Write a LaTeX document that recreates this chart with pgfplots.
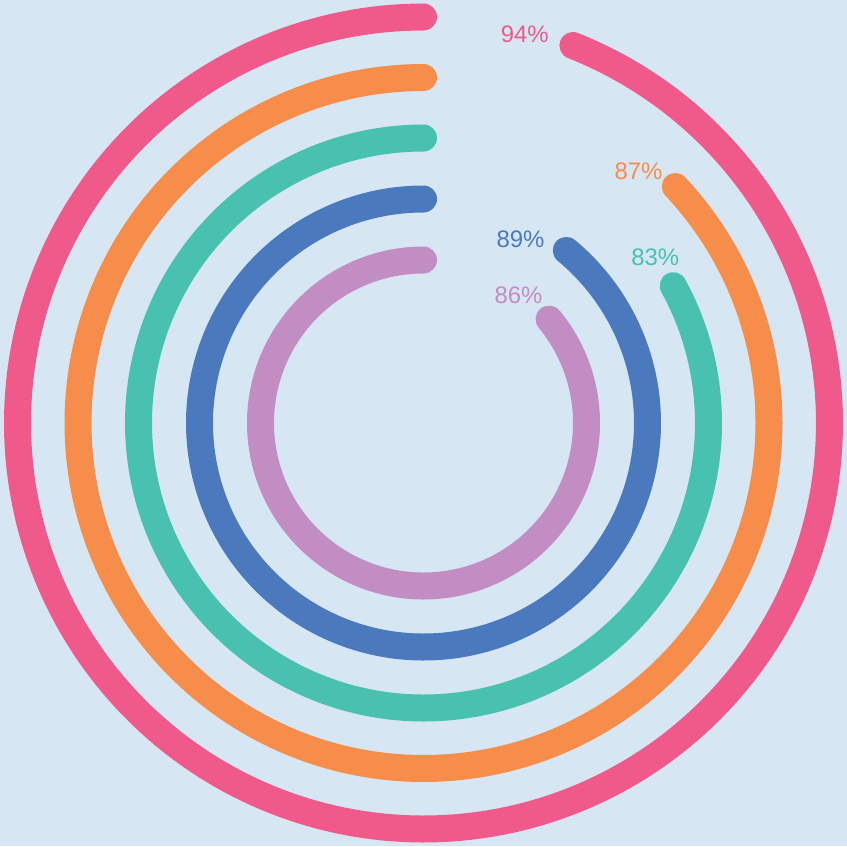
\documentclass[border=0pt]{standalone}
\usepackage{pgfplots}
\pgfplotsset{compat=1.18}
\usepgfplotslibrary{polar}
\usepackage{fontspec}
\setmainfont{Liberation Sans}
\definecolor{bg}{HTML}{D6E7F3}
\definecolor{cpink}{HTML}{F05A8A}
\definecolor{corange}{HTML}{F68D4B}
\definecolor{cgreen}{HTML}{48C1B1}
\definecolor{cblue}{HTML}{4B79BE}
\definecolor{cpurple}{HTML}{C28DC2}
\begin{document}
\begin{tikzpicture}[lbl/.style={font=\fontsize{6.8}{8}\selectfont}]
\fill[bg] (-4.235cm,-4.23cm) rectangle (4.235cm,4.23cm);
\begin{polaraxis}[
  at={(0,0)}, anchor=center,
  hide axis, clip=false,
  width=8.47cm, height=8.47cm, scale only axis,
  ymin=0, ymax=423.5,
  every axis plot/.append style={no markers, line cap=round, line width=2.7mm, samples=240},
]
% value 94, radius 406
\addplot[cpink,   domain=90:{90+3.6*94}] (x, 406);
% value 87, radius 345.5
\addplot[corange, domain=90:{90+3.6*87}] (x, 345.5);
% value 83, radius 285
\addplot[cgreen,  domain=90:{90+3.6*83}] (x, 285);
% value 89, radius 224
\addplot[cblue,   domain=90:{90+3.6*89}] (x, 224);
% value 86, radius 163
\addplot[cpurple, domain=90:{90+3.6*86}] (x, 163);
\node[lbl, text=cpink]   at (axis cs:75.4,402) {94\%};
\node[lbl, text=corange] at (axis cs:49.5,331) {87\%};
\node[lbl, text=cgreen]  at (axis cs:35.6,285) {83\%};
\node[lbl, text=cblue]   at (axis cs:62.2,208) {89\%};
\node[lbl, text=cpurple] at (axis cs:53.4,159.4) {86\%};
\end{polaraxis}
\end{tikzpicture}
\end{document}
